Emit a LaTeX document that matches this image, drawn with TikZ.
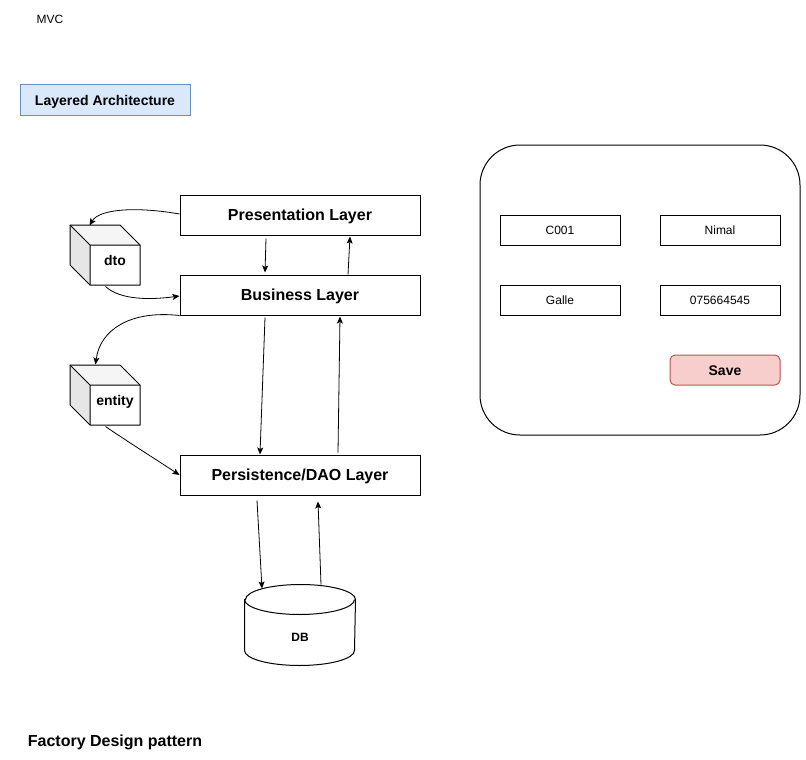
\documentclass[tikz,border=0pt]{standalone}
\usepackage{fontspec}
\setmainfont{Liberation Sans}
\usetikzlibrary{arrows.meta,calc}
\definecolor{blueFill}{HTML}{DAE8FC}
\definecolor{blueLine}{HTML}{6C8EBF}
\definecolor{redFill}{HTML}{F8CECC}
\definecolor{redLine}{HTML}{B85450}
\definecolor{cubeTop}{HTML}{F5F5F5}
\definecolor{cubeSide}{HTML}{E6E6E6}
\begin{document}
\begin{tikzpicture}[x=1pt,y=-1pt,line width=1pt,
  % fonts sized in px, capitals centred vertically
  txtS/.style={font=\fontsize{12}{14}\selectfont, text height=8.6pt, text depth=0pt},
  txtSB/.style={font=\fontsize{12}{14}\selectfont\bfseries, text height=8.6pt, text depth=0pt},
  txtM/.style={font=\fontsize{14}{17}\selectfont\bfseries, text height=10pt, text depth=0pt},
  txtL/.style={font=\fontsize{16}{19}\selectfont\bfseries, text height=11.5pt, text depth=0pt},
  layer/.style={draw, minimum width=240pt, minimum height=40pt, inner sep=0pt, txtL},
  field/.style={draw, minimum width=120pt, minimum height=30pt, inner sep=0pt, txtS},
  cubebox/.style={minimum width=70pt, minimum height=60pt, inner sep=0pt},
  cubetext/.style={txtM, inner sep=0pt},
  arr/.style={-{Stealth[length=7pt,width=6pt,inset=1.5pt]}, line width=0.8pt},
  cube/.pic={
    \fill[cubeTop] (-35,-30) -- (15,-30) -- (35,-10) -- (-15,-10) -- cycle;
    \fill[cubeSide] (-35,-30) -- (-15,-10) -- (-15,30) -- (-35,10) -- cycle;
    \draw[line join=round] (-35,-30) -- (15,-30) -- (35,-10) -- (35,30) -- (-15,30) -- (-35,10) -- cycle;
    \draw (-35,-30) -- (-15,-10) -- (35,-10) (-15,-10) -- (-15,30);
  }]
\useasboundingbox (0,0) rectangle (806,760);

% headings
\node[txtS, inner sep=0pt] (mvc) at (50,19.5) {MVC};
\node[draw=blueLine, fill=blueFill, minimum width=170pt, minimum height=30pt, inner sep=0pt, txtM]
  (arch) at (105,100) {Layered Architecture};
\node[txtL, inner sep=0pt] (factory) at (115,740.5) {Factory Design pattern};

% layers
\node[layer] (pres) at (300,215) {Presentation Layer};
\node[layer] (bus)  at (300,295) {Business Layer};
\node[layer] (dao)  at (300,475) {Persistence/DAO Layer};

% data objects
\node[cubebox] (dto) at (105,255) {};
\pic at (dto.center) {cube};
\node[cubetext] (dtolabel) at ($(dto.center)+(10,5)$) {dto};
\node[cubebox] (entity) at (105,395) {};
\pic at (entity.center) {cube};
\node[cubetext] (entitylabel) at ($(entity.center)+(10,5)$) {entity};

% database
\node[minimum width=110pt, minimum height=80pt, inner sep=0pt] (db) at (300,625) {};
\draw[fill=white] ($(db.north west)+(0,15)$)
  -- ($(db.south west)+(0,-15)$) arc[start angle=180, end angle=360, x radius=55, y radius=-15]
  -- ($(db.north east)+(0,15)$) arc[start angle=0, end angle=180, x radius=55, y radius=-15] -- cycle;
\draw ($(db.north west)+(0,15)$) arc[start angle=180, end angle=360, x radius=55, y radius=-15];
\node[txtSB, inner sep=0pt] (dblabel) at ($(db.center)+(0,12)$) {DB};

% connectors between layers
\draw[arr] ($(pres.south)+(-34,3)$) -- ($(bus.north)+(-35,-2)$);
\draw[arr] ($(bus.north)+(48,0)$) -- ($(pres.south)+(50,1)$);
\draw[arr] ($(bus.south)+(-35,2)$) -- ($(dao.north)+(-40,0)$);
\draw[arr] ($(dao.north)+(38,-2)$) -- ($(bus.south)+(40,1)$);
\draw[arr] ($(dao.south)+(-43,5)$) -- ($(db.north)+(-38,4)$);
\draw[arr] ($(db.north)+(21,0)$) -- ($(dao.south)+(18,6)$);

% connectors to data objects
\draw[arr] ($(pres.west)+(0,-1)$) .. controls (140,207) and (100,208) .. ($(dto.north west)+(20,1)$);
\draw[arr] ($(dto.south west)+(36,1)$) .. controls (120,300) and (150,300) .. ($(bus.west)+(0,1)$);
\draw[arr] (bus.south west) .. controls (130,310) and (100,330) .. ($(entity.north west)+(26,0)$);
\draw[arr] ($(entity.south west)+(36,1)$) .. controls (125,440) and (160,462) .. (dao.west);

% form
\node[draw, rounded corners=40pt, minimum width=320pt, minimum height=290pt, inner sep=0pt] (form) at (640,290) {};
\node[field] (code)  at (560,230) {C001};
\node[field] (name)  at (720,230) {Nimal};
\node[field] (city)  at (560,300) {Galle};
\node[field] (phone) at (720,300) {075664545};
\node[draw=redLine, fill=redFill, rounded corners=5pt, minimum width=110pt, minimum height=30pt,
      inner sep=0pt, txtM] (save) at (725,370) {Save};
\end{tikzpicture}
\end{document}
